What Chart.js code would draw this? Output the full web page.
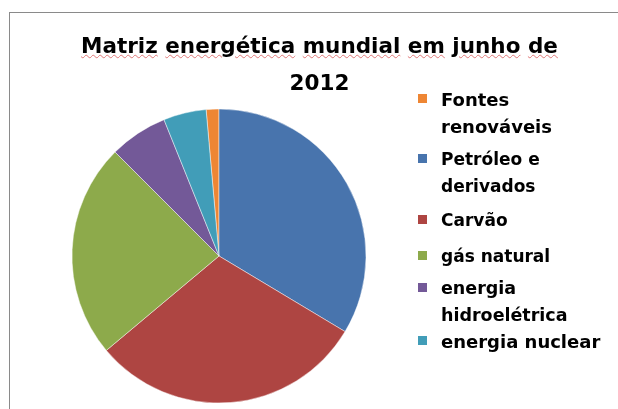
<!DOCTYPE html>
<html>
<head>
<meta charset="utf-8">
<script src="https://cdn.jsdelivr.net/npm/chart.js@4.4.1/dist/chart.umd.min.js"></script>
<style>
  html, body { margin: 0; padding: 0; background: #ffffff; overflow: hidden; }
  body { width: 618px; height: 409px; position: relative; font-family: "DejaVu Sans", sans-serif; }
  #frame { position: absolute; left: 9px; top: 12px; width: 640px; height: 420px;
           border-left: 1px solid #8a8a8a; border-top: 1px solid #8a8a8a; }
  #chart { position: absolute; left: 0; top: 0; }
  #title { position: absolute; left: 9px; top: 27px; width: 621px; text-align: center;
           font-family: "DejaVu Sans", sans-serif; font-weight: bold; font-size: 21.5px;
           line-height: 37px; color: #000; white-space: nowrap; }
  #title .sp { text-decoration: underline wavy #e07777; text-decoration-thickness: 1px;
               text-underline-offset: 1px; }
  #legend { position: absolute; left: 0; top: 0; }
  .item { position: absolute; left: 441px; width: 170px; font-family: "DejaVu Sans", sans-serif;
          font-weight: bold; line-height: 27px; color: #000; }
  .mark { position: absolute; left: -23px; width: 9px; height: 9px; }
</style>
</head>
<body>
<div id="frame"></div>
<canvas id="chart" width="618" height="409"></canvas>
<div id="title"></div>
<div id="legend"></div>
<script>
// ---- data ----
const titleLines = ['Matriz energética mundial em junho de', '2012'];
const categories = ['Fontes renováveis', 'Petróleo e derivados', 'Carvão', 'gás natural', 'energia hidroelétrica', 'energia nuclear'];
const shares = [1.4, 33.6, 30.3, 23.6, 6.4, 4.7];

// ---- styles ----
const colors = ['#EE8634', '#4874AD', '#AE4542', '#8DAA4B', '#735998', '#419DB8'];
const legendTops = [86, 145.5, 206.5, 242.5, 274.5, 327.5];
const legendSizes = [18, 17, 17, 17, 17.5, 18];

// title (real text)
const titleEl = document.getElementById('title');
const line1 = document.createElement('div');
titleLines[0].split(' ').forEach((w, i, arr) => {
  const s = document.createElement('span');
  s.className = 'sp';
  s.textContent = w;
  line1.appendChild(s);
  if (i < arr.length - 1) line1.appendChild(document.createTextNode(' '));
});
titleEl.appendChild(line1);
const line2 = document.createElement('div');
line2.textContent = titleLines[1];
titleEl.appendChild(line2);

// legend (real text)
const legendEl = document.getElementById('legend');
categories.forEach((c, i) => {
  const it = document.createElement('div');
  it.className = 'item';
  it.style.top = legendTops[i] + 'px';
  it.style.fontSize = legendSizes[i] + 'px';
  const m = document.createElement('span');
  m.className = 'mark';
  m.style.background = colors[i];
  m.style.top = '8px';
  it.appendChild(m);
  it.appendChild(document.createTextNode(c));
  legendEl.appendChild(it);
});

const total = shares.reduce((a, b) => a + b, 0);

new Chart(document.getElementById('chart'), {
  type: 'pie',
  data: {
    labels: categories,
    datasets: [{
      data: shares,
      backgroundColor: colors,
      borderColor: 'rgba(255,255,255,0.45)',
      borderWidth: 1,
      hoverOffset: 0
    }]
  },
  options: {
    responsive: false,
    animation: false,
    rotation: -shares[0] / total * 360,
    layout: { padding: { left: 71.5, right: 251.5, top: 108.5, bottom: 5.5 } },
    plugins: {
      legend: { display: false },
      title: { display: false },
      tooltip: { enabled: false }
    }
  }
});
</script>
</body>
</html>
